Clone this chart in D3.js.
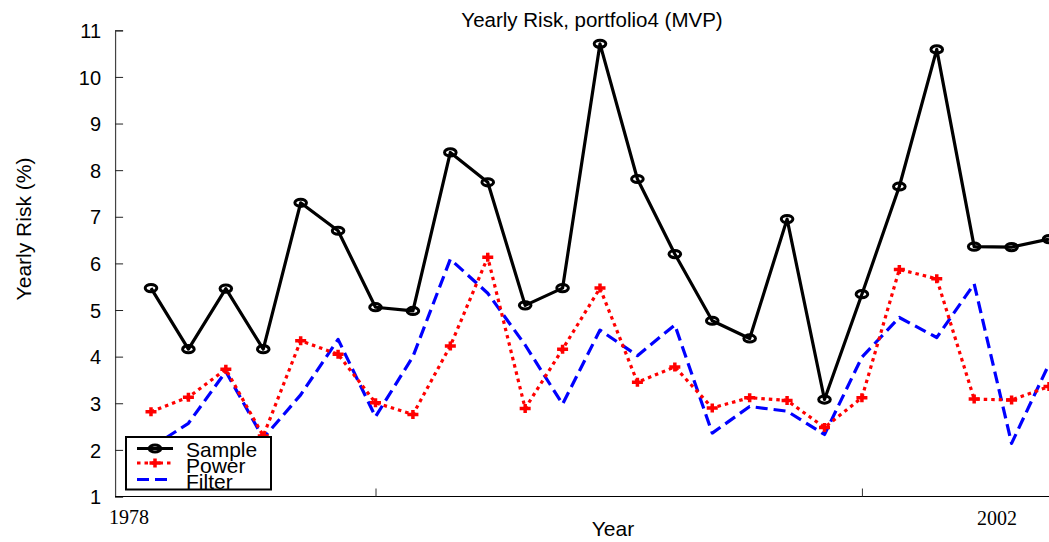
<!DOCTYPE html>
<html>
<head>
<meta charset="utf-8">
<script src="https://cdn.jsdelivr.net/npm/d3@7"></script>
<style>
  html, body { margin: 0; padding: 0; background: #fff; }
  svg { display: block; }
  text { font-family: "Liberation Sans", Arial, Helvetica, sans-serif; fill: #000; }
  .serif { font-family: "Liberation Serif", "Times New Roman", serif; }
</style>
</head>
<body>
<svg id="chart" width="1049" height="542"></svg>
<script>
// Yearly risk of portfolio4 (minimum-variance portfolio), three estimators
const years = d3.range(1978, 2003);
const sample = [5.47, 4.16, 5.46, 4.16, 7.30, 6.70, 5.06, 4.98, 8.38, 7.74,
                5.10, 5.47, 10.71, 7.81, 6.20, 4.77, 4.39, 6.95, 3.08, 5.34,
                7.65, 10.59, 6.36, 6.35, 6.52];
const power  = [2.82, 3.13, 3.73, 2.30, 4.34, 4.05, 3.01, 2.76, 4.23, 6.13,
                2.89, 4.16, 5.47, 3.45, 3.78, 2.90, 3.12, 3.06, 2.48, 3.12,
                5.87, 5.67, 3.09, 3.07, 3.36];
const filter = [2.05, 2.57, 3.68, 2.25, 3.18, 4.37, 2.71, 4.00, 6.09, 5.36,
                4.25, 2.98, 4.57, 4.02, 4.68, 2.36, 2.93, 2.83, 2.33, 3.99,
                4.84, 4.41, 5.56, 2.14, 3.84];
const yTicks = d3.range(1, 12);
const xTicks = [1984, 1997];
const xTickLabels = ["1978", "2002"];
const seriesNames = ["Sample", "Power", "Filter"];

const svg = d3.select("#chart");

const x = d3.scaleLinear().domain([1978, 2002]).range([151, 1049]);
const y = d3.scaleLinear().domain([1, 11]).range([496.5, 30.3]);
const x0 = x(1978 - 0.96);
const xEnd = 1049;

// y axis
const yAxis = d3.axisLeft(y).tickValues(yTicks).tickSize(-8).tickPadding(14)
  .tickFormat(d3.format("d"));
const gy = svg.append("g").attr("transform", `translate(${x0},0)`).call(yAxis);
gy.select(".domain").attr("stroke", "#444").attr("stroke-width", 1.2);
gy.selectAll(".tick line").attr("stroke", "#222");
gy.selectAll(".tick text").attr("font-size", 20).attr("dy", "0.36em")
  .attr("font-family", "Liberation Sans, Arial, sans-serif").attr("fill", "#000");

// x axis (tick marks only; year labels drawn separately)
const xAxis = d3.axisBottom(x).tickValues(xTicks).tickSize(-8).tickFormat("");
const gx = svg.append("g").attr("transform", `translate(0,${y(1)})`).call(xAxis);
gx.select(".domain").attr("d", `M${x0},0H${xEnd + 5}`).attr("stroke", "#000").attr("stroke-width", 1.2);
gx.selectAll(".tick line").attr("stroke", "#333");

svg.append("text").attr("class", "serif").attr("x", x(1978) - 22).attr("y", 524)
  .attr("text-anchor", "middle").attr("font-size", 20).text(xTickLabels[0]);
svg.append("text").attr("class", "serif").attr("x", x(2002) - 52).attr("y", 525)
  .attr("text-anchor", "middle").attr("font-size", 20).text(xTickLabels[1]);

// titles
svg.append("text").attr("x", 592).attr("y", 27).attr("text-anchor", "middle")
  .attr("font-size", 20.5).text("Yearly Risk, portfolio4 (MVP)");
svg.append("text").attr("x", 613).attr("y", 536).attr("text-anchor", "middle")
  .attr("font-size", 21).text("Year");
svg.append("text").attr("transform", "translate(31,229) rotate(-90)")
  .attr("text-anchor", "middle").attr("font-size", 21).text("Yearly Risk (%)");

const line = d3.line().x((d, i) => x(years[i])).y(d => y(d));

const plot = svg.append("g");

// Filter: blue dashed
plot.append("path").datum(filter).attr("d", line)
  .attr("fill", "none").attr("stroke", "#0000ff").attr("stroke-width", 3.2)
  .attr("stroke-dasharray", "12,6").attr("stroke-linejoin", "round");

// Power: red dotted with plus markers
plot.append("path").datum(power).attr("d", line)
  .attr("fill", "none").attr("stroke", "#ff0000").attr("stroke-width", 3.2)
  .attr("stroke-dasharray", "3.5,4");

function plusPath(cx, cy) {
  return `M${cx - 5.5},${cy}H${cx + 5.5}M${cx},${cy - 4.5}V${cy + 4.5}`;
}
plot.append("g").selectAll("path").data(power).join("path")
  .attr("d", (d, i) => plusPath(x(years[i]), y(d)))
  .attr("stroke", "#ff0000").attr("stroke-width", 3.5).attr("fill", "none");

// Sample: black solid with open circle markers
plot.append("path").datum(sample).attr("d", line)
  .attr("fill", "none").attr("stroke", "#000").attr("stroke-width", 3.2)
  .attr("stroke-linejoin", "round");
plot.append("g").selectAll("ellipse").data(sample).join("ellipse")
  .attr("cx", (d, i) => x(years[i])).attr("cy", d => y(d))
  .attr("rx", 5.8).attr("ry", 3.6)
  .attr("fill", "none").attr("stroke", "#000").attr("stroke-width", 3);

// legend
const lg = svg.append("g");
lg.append("rect").attr("x", 126).attr("y", 437).attr("width", 145).attr("height", 52.5)
  .attr("fill", "#fff").attr("stroke", "#000").attr("stroke-width", 2);
const rows = [
  { name: seriesNames[0], cy: 448.5, base: 457, color: "#000", dash: null },
  { name: seriesNames[1], cy: 463, base: 473, color: "#ff0000", dash: "3.5,4" },
  { name: seriesNames[2], cy: 479.5, base: 489, color: "#0000ff", dash: "12,6" }
];
rows.forEach((r, k) => {
  const ln = lg.append("line").attr("x1", 137).attr("x2", 173)
    .attr("y1", r.cy).attr("y2", r.cy)
    .attr("stroke", r.color).attr("stroke-width", 3.2);
  if (r.dash) ln.attr("stroke-dasharray", r.dash);
  if (k === 0) {
    lg.append("ellipse").attr("cx", 155).attr("cy", r.cy).attr("rx", 5.8).attr("ry", 3.6)
      .attr("fill", "none").attr("stroke", "#000").attr("stroke-width", 3);
  }
  if (k === 1) {
    lg.append("path").attr("d", plusPath(155, r.cy))
      .attr("stroke", "#ff0000").attr("stroke-width", 3.5);
  }
  lg.append("text").attr("x", 186).attr("y", r.base).attr("font-size", 21).text(r.name);
});
</script>
</body>
</html>
